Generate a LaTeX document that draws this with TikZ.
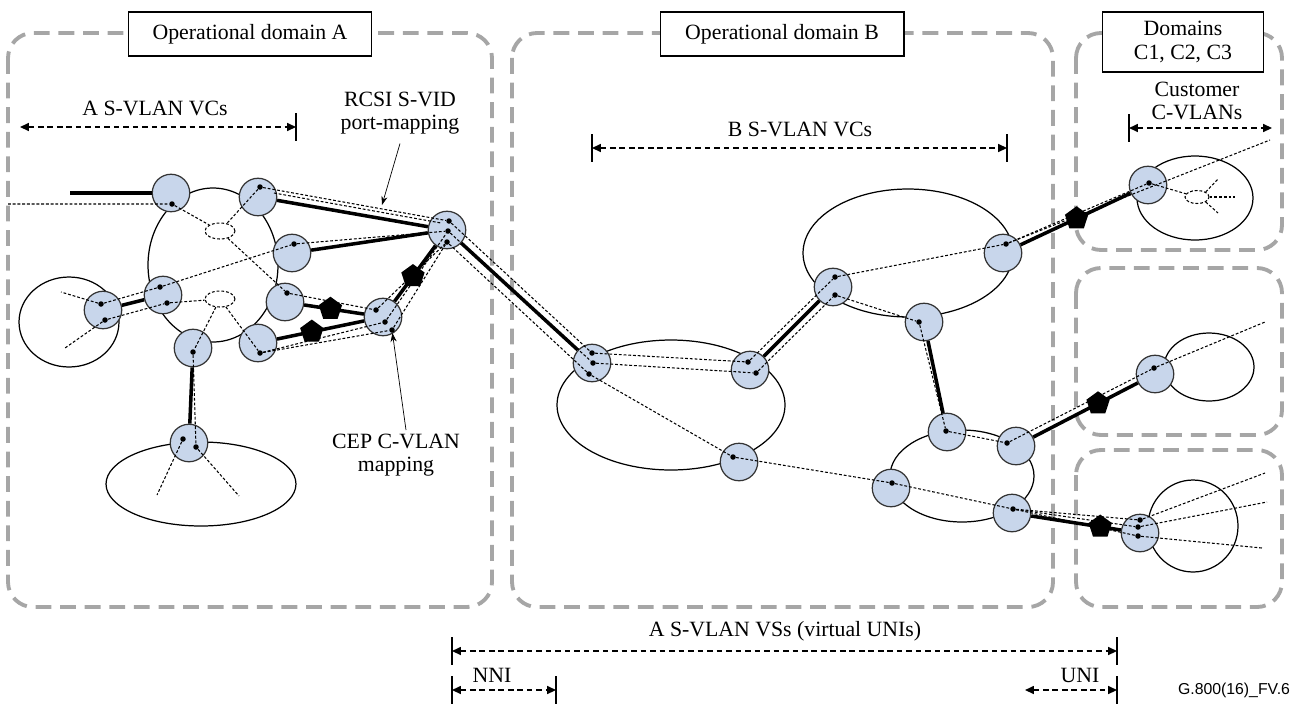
\documentclass[tikz,border=0pt]{standalone}
\usepackage{fontspec}
\setmainfont{Liberation Serif}
\newfontfamily\figfont{Liberation Sans}
\usepackage{tikz}
\usetikzlibrary{arrows.meta, shapes.geometric, positioning, calc}
\definecolor{nodeblue}{HTML}{C8D6EB}
\definecolor{boxgray}{HTML}{A6A6A6}
\tikzset{
	vlannode/.style={
			circle,
			draw=black!80,
			line width=0.7pt,
			fill=nodeblue,
			minimum size=7.5mm,
			inner sep=0pt
		},
	dotnode/.style={
			circle,
			fill=black,
			minimum size=1.1mm,
			inner sep=0pt
		},
	areaell/.style={
			ellipse,
			draw=black,
			line width=0.7pt,
			inner sep=0pt
		},
	junction/.style={
			ellipse,
			draw=black,
			line width=0.6pt,
			dash pattern=on 1.6pt off 1.1pt,
			inner sep=0pt
		},
	thicklink/.style={
			line width=2pt,
			draw=black
		},
	vcline/.style={
			line width=0.6pt,
			dash pattern=on 1.6pt off 1.1pt
		},
	penta/.style={
			regular polygon,
			regular polygon sides=5,
			fill=black,
			minimum size=4.9mm,
			inner sep=0pt
		},
	domainbox/.style={
			draw=boxgray,
			line width=2.2pt,
			dash pattern=on 9pt off 5pt,
			rounded corners=0.5cm
		},
	titlebox/.style={
			draw=black,
			line width=0.6pt,
			fill=white,
			minimum height=0.88cm,
			inner sep=0pt,
			align=center,
			font=\fontsize{12.4}{13.5}\selectfont
		},
	lbl/.style={
			inner sep=1pt,
			align=center,
			font=\fontsize{12.4}{13.5}\selectfont
		},
	dimline/.style={
			line width=0.8pt,
			dash pattern=on 3.2pt off 2.2pt,
			{Triangle[length=5pt,width=4.5pt]}-{Triangle[length=5pt,width=4.5pt]}
		},
	tickline/.style={
			line width=0.7pt
		},
	pointer/.style={
			line width=0.4pt,
			-{Stealth[length=5pt,width=3.5pt]}
		}
}

\begin{document}
\begin{tikzpicture}[x=0.02cm, y=-0.02cm]
\useasboundingbox (0,0) rectangle (1293,707);

% domain frames and titles
\draw[domainbox] (8,33) rectangle (492,607);
\draw[domainbox] (512,33) rectangle (1053,607);
\draw[domainbox] (1076,33) rectangle (1282,250);
\draw[domainbox] (1076,268) rectangle (1282,435);
\draw[domainbox] (1076,450) rectangle (1282,607);

\node[titlebox, minimum width=4.86cm] (tDomA) at (250,34) {Operational domain A};
\node[titlebox, minimum width=4.88cm] (tDomB) at (782,34) {Operational domain B};
\node[titlebox, minimum width=3.22cm, minimum height=1.2cm] (tDomC) at (1183,42) {Domains\\C1, C2, C3};

% dimension arrows
\coordinate (dimAl) at (20,127);
\coordinate (dimAr) at (296,127);
\coordinate (dimBl) at (592,148);
\coordinate (dimBr) at (1007,148);
\coordinate (dimCl) at (1129,128);
\coordinate (dimCr) at (1272,128);
\coordinate (dimVl) at (452,651);
\coordinate (dimVr) at (1117,651);
\coordinate (dimNl) at (452,690);
\coordinate (dimNr) at (556,690);
\coordinate (dimUl) at (1025,690);
\coordinate (dimUr) at (1117,690);

\draw[dimline] (dimAl) -- (dimAr);
\draw[dimline] (dimBl) -- (dimBr);
\draw[dimline] (dimCl) -- (dimCr);
\draw[dimline] (dimVl) -- (dimVr);
\draw[dimline] (dimNl) -- (dimNr);
\draw[dimline] (dimUl) -- (dimUr);
\foreach \t in {dimAr,dimBl,dimBr,dimCl,dimVl,dimVr,dimNl,dimNr,dimUr}
  \draw[tickline] ($(\t)+(0,-14)$) -- ($(\t)+(0,14)$);

\node[lbl] (lAvc) at (155,108) {A S-VLAN VCs};
\node[lbl] (lBvc) at (800,129) {B S-VLAN VCs};
\node[lbl] (lCust) at (1197,101) {Customer\\C-VLANs};
\node[lbl] (lVs) at (785,631) {A S-VLAN VSs (virtual UNIs)};
\node[lbl] (lNni) at (492,675) {NNI};
\node[lbl] (lUni) at (1080,675) {UNI};
\node[lbl] (lRcsi) at (400,113) {RCSI S-VID\\port-mapping};
\node[lbl] (lCep) at (396,455) {CEP C-VLAN\\mapping};
\node[inner sep=0pt, font=\figfont\fontsize{9}{10}\selectfont] (lFig) at (1234,690) {G.800(16)\_FV.6};

% areas
\node[areaell, minimum width=2.6cm, minimum height=3.08cm] (eAcore) at (213,265) {};
\node[areaell, minimum width=2.0cm, minimum height=1.8cm] (eAleft) at (69,322) {};
\node[areaell, minimum width=3.8cm, minimum height=1.68cm] (eAbot) at (201,484) {};
\node[areaell, minimum width=4.56cm, minimum height=2.6cm] (eB1) at (671,405) {};
\node[areaell, minimum width=4.2cm, minimum height=2.56cm] (eB2) at (908,253) {};
\node[areaell, minimum width=2.88cm, minimum height=1.84cm] (eB3) at (962,476) {};
\node[areaell, minimum width=2.32cm, minimum height=1.68cm] (eC1) at (1195,198) {};
\node[areaell, minimum width=1.8cm, minimum height=1.36cm] (eC2) at (1209,367) {};
\node[areaell, minimum width=1.8cm, minimum height=1.84cm] (eC3) at (1193,526) {};

\node[junction, minimum width=0.6cm, minimum height=0.32cm] (sU) at (220,231) {};
\node[junction, minimum width=0.6cm, minimum height=0.32cm] (sL) at (220,299) {};
\node[junction, minimum width=0.48cm, minimum height=0.26cm] (sC) at (1197,197) {};

% bridges, domain A
\node[vlannode] (a1) at (171,193) {};
\node[vlannode] (a2) at (258,197) {};
\node[vlannode] (a3) at (292,253) {};
\node[vlannode] (a4) at (163,295) {};
\node[vlannode] (a5) at (103,310) {};
\node[vlannode] (a6) at (285,302) {};
\node[vlannode] (a7) at (193,348) {};
\node[vlannode] (a8) at (258,343) {};
\node[vlannode] (a9) at (383,317) {};
\node[vlannode] (a10) at (447,230) {};
\node[vlannode] (a11) at (189,443) {};

% bridges, domain B
\node[vlannode] (b1) at (592,363) {};
\node[vlannode] (b2) at (750,370) {};
\node[vlannode] (b3) at (739,462) {};
\node[vlannode] (b4) at (833,287) {};
\node[vlannode] (b5) at (1003,253) {};
\node[vlannode] (b6) at (924,322) {};
\node[vlannode] (b7) at (947,432) {};
\node[vlannode] (b8) at (1016,446) {};
\node[vlannode] (b9) at (891,488) {};
\node[vlannode] (b10) at (1012,513) {};

% customer bridges
\node[vlannode] (c1) at (1148,185) {};
\node[vlannode] (c2) at (1155,374) {};
\node[vlannode] (c3) at (1140,533) {};

% ports
\node[dotnode] (a1d) at (172,204) {};
\node[dotnode] (a2d) at (260,187) {};
\node[dotnode] (a3d) at (294,244) {};
\node[dotnode] (a4d1) at (160,287) {};
\node[dotnode] (a4d2) at (167,303) {};
\node[dotnode] (a5d1) at (101,304) {};
\node[dotnode] (a5d2) at (105,320) {};
\node[dotnode] (a6d) at (287,293) {};
\node[dotnode] (a7d) at (193,352) {};
\node[dotnode] (a8d) at (260,353) {};
\node[dotnode] (a9d1) at (376,310) {};
\node[dotnode] (a9d2) at (385,322) {};
\node[dotnode] (a9d3) at (392,330) {};
\node[dotnode] (a10d1) at (449,221) {};
\node[dotnode] (a10d2) at (448,231) {};
\node[dotnode] (a10d3) at (447,242) {};
\node[dotnode] (a11d1) at (183,439) {};
\node[dotnode] (a11d2) at (196,447) {};
\node[dotnode] (b1d1) at (592,353) {};
\node[dotnode] (b1d2) at (593,363) {};
\node[dotnode] (b1d3) at (589,374) {};
\node[dotnode] (b2d1) at (748,362) {};
\node[dotnode] (b2d2) at (756,373) {};
\node[dotnode] (b3d) at (733,457) {};
\node[dotnode] (b4d1) at (835,277) {};
\node[dotnode] (b4d2) at (835,295) {};
\node[dotnode] (b5d) at (1006,244) {};
\node[dotnode] (b6d) at (919,322) {};
\node[dotnode] (b7d) at (946,431) {};
\node[dotnode] (b8d) at (1007,443) {};
\node[dotnode] (b9d) at (892,483) {};
\node[dotnode] (b10d) at (1013,509) {};
\node[dotnode] (c1d) at (1149,183) {};
\node[dotnode] (c2d) at (1154,368) {};
\node[dotnode] (c3d1) at (1140,520) {};
\node[dotnode] (c3d2) at (1138,527) {};
\node[dotnode] (c3d3) at (1138,536) {};

% loose ends
\coordinate (aIn) at (70,193);
\coordinate (aOut) at (8,204);
\coordinate (aL1) at (61,292);
\coordinate (aL2) at (65,348);
\coordinate (aB1) at (157,495);
\coordinate (aB2) at (239,496);
\coordinate (c1Out) at (1270,140);
\coordinate (c1J1) at (1218,179);
\coordinate (c1J2) at (1235,197);
\coordinate (c1J3) at (1218,213);
\coordinate (c2Out) at (1265,322);
\coordinate (c3Out1) at (1265,473);
\coordinate (c3Out2) at (1267,502);
\coordinate (c3Out3) at (1262,548);
\coordinate (rcsiTip) at (382,205);
\coordinate (cepTail) at (406,430);

% physical links
\draw[thicklink] (aIn) -- (a1);
\draw[thicklink] (a2) -- (a10);
\draw[thicklink] (a3) -- (a10);
\draw[thicklink] (a5) -- (a4);
\draw[thicklink] (a7) -- (a11);
\draw[thicklink] (a6) -- node[penta, pos=0.44] (pA1) {} (a9);
\draw[thicklink] (a8) -- node[penta, pos=0.4] (pA2) {} (a9);
\draw[thicklink] (a9) -- node[penta, pos=0.45] (pA3) {} (a10);
\draw[thicklink] (a10) -- (b1);
\draw[thicklink] (b2) -- (b4);
\draw[thicklink] (b6) -- (b7);
\draw[thicklink] (b5) -- node[penta, pos=0.51] (pC1) {} (c1);
\draw[thicklink] (b8) -- node[penta, pos=0.62] (pC2) {} (c2);
\draw[thicklink] (b10) -- node[penta, pos=0.77] (pC3) {} (c3);

% virtual connections, domain A
\draw[vcline] (aOut) -- (a1d) -- (sU);
\draw[vcline] (a2d) -- (sU);
\draw[vcline] (sU) -- (a6d);
\draw[vcline] (a5d1) -- (a4d1) -- (a3d) -- (a10d2);
\draw[vcline] (a5d2) -- (a4d2) -- (sL);
\draw[vcline] (sL) -- (a7d);
\draw[vcline] (sL) -- (a8d);
\draw[vcline] (a5d1) -- (aL1);
\draw[vcline] (a5d2) -- (aL2);
\draw[vcline] (a7d) -- (a11d2);
\draw[vcline] (a11d1) -- (aB1);
\draw[vcline] (a11d2) -- (aB2);
\draw[vcline] (a2d) -- (a10d1);
\draw[vcline] ($(a2d)+(14,6)$) -- ($(a10d1)+(-8,2)$);
\draw[vcline] (a6d) -- (a9d1);
\draw[vcline] (a8d) -- (a9d2);
\draw[vcline] (a8d) -- (a9d3);
\draw[vcline] (a9d1) -- (a10d3);
\draw[vcline] (a9d2) -- (a10d2);
\draw[vcline] (a9d3) -- (a10d3);

% virtual connections, domain B
\draw[vcline] (a10d1) -- (b1d1) -- (b2d1) -- (b4d1) -- (b5d);
\draw[vcline] (a10d2) -- (b1d2) -- (b2d2) -- (b4d2) -- (b6d) -- (b7d) -- (b8d);
\draw[vcline] (a10d3) -- (b1d3) -- (b3d) -- (b9d) -- (b10d);

% virtual connections, customers
\draw[vcline] (b5d) -- (c1d) -- (sC);
\draw[vcline] (b5d) -- (c1Out);
\draw[vcline] (sC.30) -- (c1J1);
\draw[vcline] (sC.east) -- (c1J2);
\draw[vcline] (sC.-30) -- (c1J3);
\draw[vcline] (b8d) -- (c2d) -- (c2Out);
\draw[vcline] (b10d) -- (c3d1) -- (c3Out1);
\draw[vcline] (b10d) -- (c3d2) -- (c3Out2);
\draw[vcline] (b10d) -- (c3d3) -- (c3Out3);

% annotations
\draw[pointer] (lRcsi.south) ++(0,7) -- (rcsiTip);
\draw[pointer] (cepTail) -- (a9d3);
\end{tikzpicture}
\end{document}
